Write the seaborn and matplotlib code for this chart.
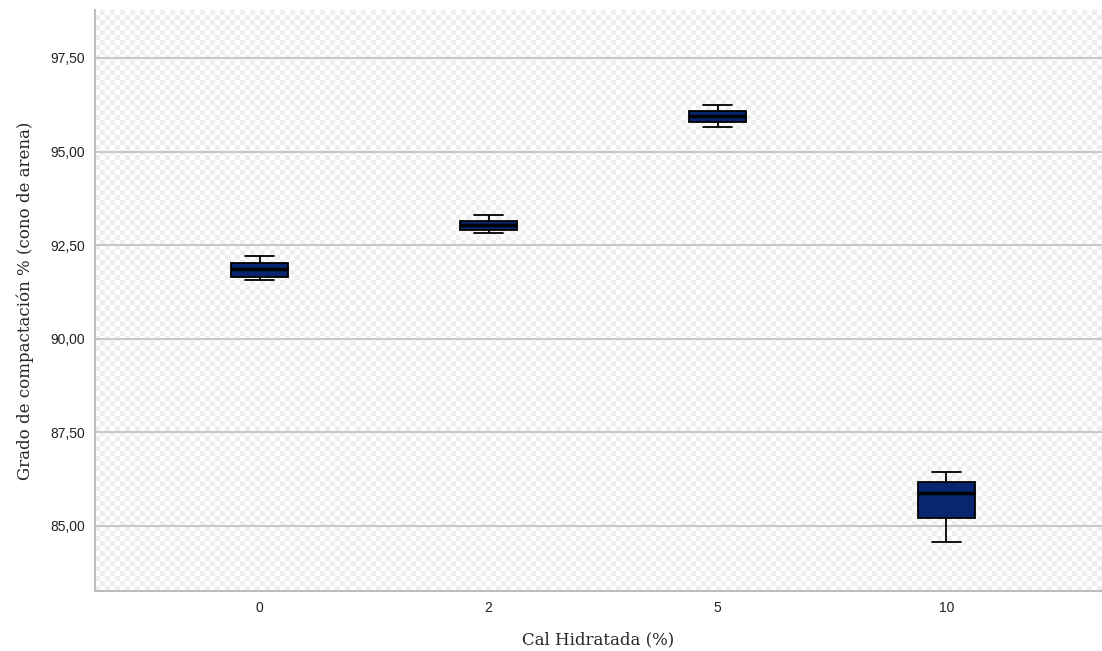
import numpy as np
import pandas as pd
import matplotlib
matplotlib.use("Agg")
import matplotlib.pyplot as plt
import seaborn as sns

# valores (min, Q1, mediana, Q3, max) por grupo
cal_niveles = ["0", "2", "5", "10"]
grupo_0 = [91.58, 91.66, 91.86, 92.02, 92.21]
grupo_2 = [92.83, 92.91, 93.04, 93.15, 93.31]
grupo_5 = [95.65, 95.80, 95.94, 96.08, 96.23]
grupo_10 = [84.58, 85.22, 85.87, 86.17, 86.44]
y_ticks = [85.0, 87.5, 90.0, 92.5, 95.0, 97.5]

data = pd.DataFrame({
    "Cal": np.repeat(cal_niveles, 5),
    "Grado": grupo_0 + grupo_2 + grupo_5 + grupo_10,
})

sns.set_style("white")
plt.rcParams["font.family"] = ["Liberation Sans", "DejaVu Sans"]

fig = plt.figure(figsize=(11.02, 6.51), dpi=100)
ax = fig.add_axes([95 / 1102, 60 / 651, 1 - 95 / 1102, 581 / 651])

# fondo a cuadritos como en SPSS
nx, ny = 201, 116
checker = (np.add.outer(np.arange(ny), np.arange(nx)) % 2).astype(float)
ax.imshow(checker, cmap=matplotlib.colors.ListedColormap(["#ffffff", "#eeeeee"]),
          extent=(0, 1, 0, 1), transform=ax.transAxes, aspect="auto",
          interpolation="nearest", zorder=0)

sns.boxplot(data=data, x="Cal", y="Grado", order=cal_niveles, ax=ax,
            width=0.25, color="#07266f", saturation=1, linecolor="black",
            linewidth=1.3, medianprops={"linewidth": 2.5, "color": "black"},
            showfliers=False)

ax.set_xlim(-0.72, 3.68)
ax.set_ylim(83.26, 98.78)
ax.set_yticks(y_ticks)
ax.set_yticklabels([f"{t:.2f}".replace(".", ",") for t in y_ticks])
ax.yaxis.grid(True, color="#c8c8c8", linewidth=1.5)
ax.set_axisbelow(True)

ax.tick_params(axis="both", length=0, labelsize=10, colors="#222222", pad=7)
ax.tick_params(axis="x", pad=7)

for side in ["top", "right"]:
    ax.spines[side].set_visible(False)
for side in ["left", "bottom"]:
    ax.spines[side].set_color("#bdbdbd")
    ax.spines[side].set_linewidth(1.5)

ax.set_xlabel("Cal Hidratada (%)", family="DejaVu Serif", fontsize=12,
              labelpad=12)
ax.set_ylabel("Grado de compactación % (cono de arena)",
              family="DejaVu Serif", fontsize=12, labelpad=12)

fig.savefig("out.png", dpi=100)
